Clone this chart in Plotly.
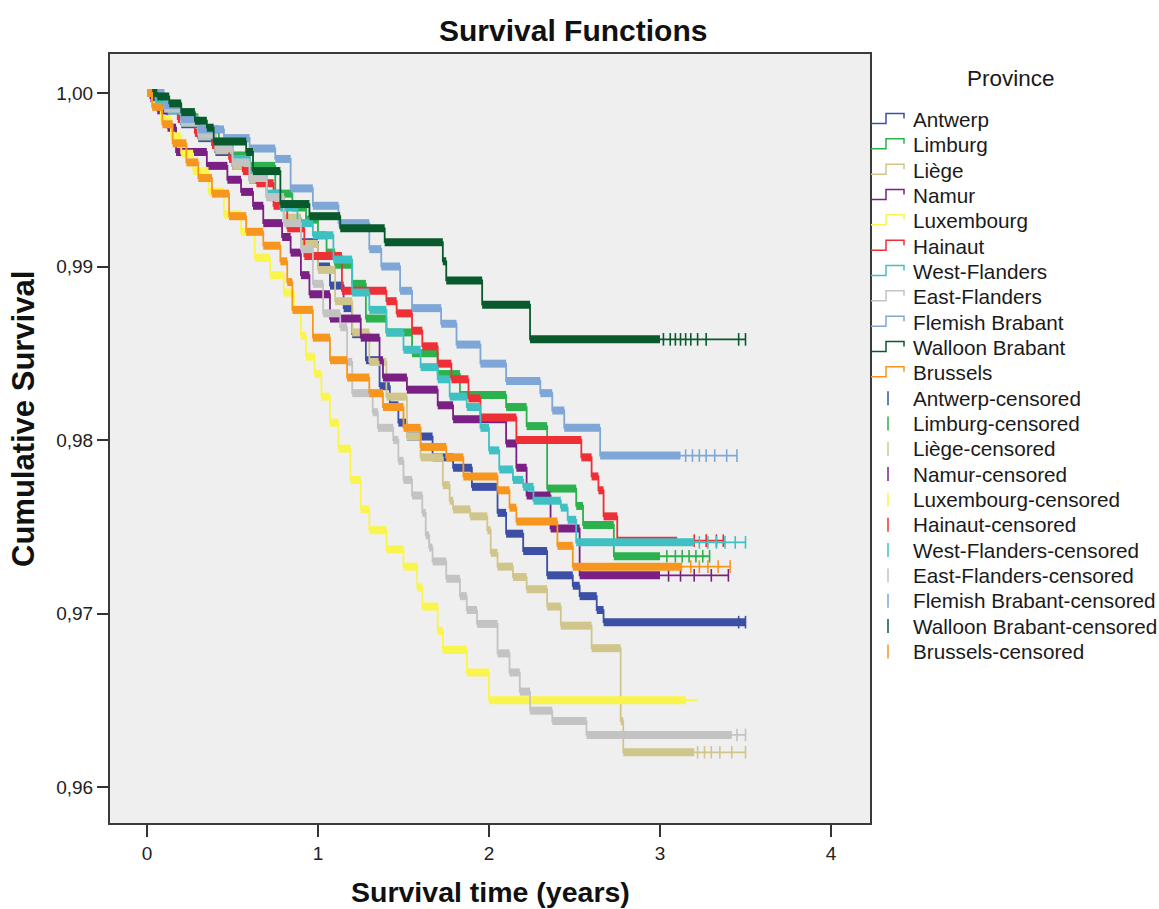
import plotly.graph_objects as go

# ---------------- data ----------------
provinces = ["Antwerp", "Limburg", "Liège", "Namur", "Luxembourg", "Hainaut",
             "West-Flanders", "East-Flanders", "Flemish Brabant", "Walloon Brabant", "Brussels"]
colors = ["#3b4fa6", "#2bb24c", "#d0c68c", "#7a1f83", "#f9f54c", "#ee2f36",
          "#3fc1c4", "#c3c3c3", "#7ea6d6", "#085a2c", "#f7961e"]

# event times (years) and Kaplan-Meier survival after each event
antwerp_t = [0.1, 0.2, 0.3, 0.4, 0.5, 0.6, 0.7, 0.8, 0.9, 1.0, 1.07, 1.15, 1.2, 1.28, 1.36, 1.42,
             1.47, 1.52, 1.67, 1.79, 1.9, 2.05, 2.1, 2.2, 2.34, 2.49, 2.53, 2.63, 2.67]
antwerp_s = [0.9990, 0.9982, 0.9974, 0.9966, 0.9958, 0.9950, 0.9940, 0.9928, 0.9914, 0.9900, 0.9889,
             0.9876, 0.9861, 0.9846, 0.9831, 0.9820, 0.9810, 0.9802, 0.9790, 0.9784, 0.9773, 0.9758,
             0.9746, 0.9736, 0.9722, 0.9716, 0.9710, 0.9702, 0.9695]

limburg_t = [0.1, 0.2, 0.3, 0.42, 0.5, 0.6, 0.75, 0.85, 0.93, 1.0, 1.05, 1.1, 1.2, 1.28, 1.4, 1.55,
             1.7, 1.83, 2.1, 2.22, 2.34, 2.51, 2.55, 2.73]
limburg_s = [0.9993, 0.9986, 0.9979, 0.9972, 0.9964, 0.9958, 0.9942, 0.9934, 0.9927, 0.9918, 0.9908,
             0.9901, 0.9890, 0.9870, 0.9862, 0.9850, 0.9838, 0.9826, 0.9819, 0.9808, 0.9772, 0.9762,
             0.9751, 0.9733]

liege_t = [0.1, 0.2, 0.3, 0.4, 0.5, 0.6, 0.7, 0.8, 0.9, 1.0, 1.1, 1.2, 1.3, 1.4, 1.52, 1.6, 1.73,
           1.77, 1.79, 1.89, 1.99, 2.01, 2.05, 2.14, 2.22, 2.34, 2.42, 2.6, 2.77, 2.785]
liege_s = [0.9991, 0.9983, 0.9975, 0.9967, 0.9958, 0.9950, 0.9940, 0.9928, 0.9913, 0.9898, 0.9880,
           0.9862, 0.9845, 0.9825, 0.9802, 0.9790, 0.9774, 0.9765, 0.9760, 0.9756, 0.9748, 0.9735,
           0.9727, 0.9721, 0.9714, 0.9704, 0.9693, 0.9680, 0.9638, 0.9620]

namur_t = [0.02, 0.06, 0.12, 0.17, 0.35, 0.47, 0.55, 0.62, 0.68, 0.79, 0.84, 0.9, 0.95, 1.07, 1.25,
           1.36, 1.38, 1.52, 1.7, 1.79, 2.1, 2.16, 2.22, 2.36, 2.53]
namur_s = [0.9997, 0.9990, 0.9980, 0.9966, 0.9958, 0.9950, 0.9943, 0.9935, 0.9925, 0.9917, 0.9908,
           0.9895, 0.9884, 0.9870, 0.9859, 0.9846, 0.9836, 0.9829, 0.9820, 0.9812, 0.9798, 0.9784,
           0.9768, 0.9749, 0.9722]

lux_t = [0.03, 0.08, 0.14, 0.2, 0.27, 0.36, 0.45, 0.55, 0.63, 0.72, 0.8, 0.86, 0.9, 0.93, 0.98,
         1.02, 1.07, 1.12, 1.19, 1.25, 1.3, 1.4, 1.5, 1.58, 1.61, 1.7, 1.73, 1.87, 2.0]
lux_s = [0.9993, 0.9985, 0.9975, 0.9965, 0.9955, 0.9943, 0.9930, 0.9920, 0.9905, 0.9895, 0.9885,
         0.9875, 0.9860, 0.9848, 0.9838, 0.9825, 0.9810, 0.9795, 0.9777, 0.9760, 0.9748, 0.9737,
         0.9727, 0.9715, 0.9704, 0.9690, 0.9679, 0.9666, 0.9650]

hainaut_t = [0.08, 0.18, 0.28, 0.38, 0.48, 0.56, 0.64, 0.74, 0.82, 0.92, 1.14, 1.40, 1.46, 1.55,
             1.61, 1.70, 1.78, 1.88, 1.95, 2.16, 2.54, 2.60, 2.64, 2.67, 2.75]
hainaut_s = [0.9993, 0.9985, 0.9977, 0.9970, 0.9962, 0.9955, 0.9948, 0.9935, 0.9922, 0.9906, 0.9886,
             0.9880, 0.9873, 0.9863, 0.9854, 0.9844, 0.9835, 0.9824, 0.9813, 0.9800, 0.9790, 0.9779,
             0.9771, 0.9756, 0.9742]

wfl_t = [0.05, 0.12, 0.2, 0.3, 0.4, 0.5, 0.6, 0.7, 0.78, 0.88, 0.97, 1.09, 1.2, 1.3, 1.4, 1.5, 1.6,
         1.7, 1.77, 1.87, 1.95, 2.0, 2.06, 2.14, 2.2, 2.26, 2.42, 2.46, 2.51]
wfl_s = [0.9995, 0.9990, 0.9983, 0.9976, 0.9969, 0.9962, 0.9953, 0.9942, 0.9934, 0.9925, 0.9918,
         0.9904, 0.9885, 0.9875, 0.9862, 0.9852, 0.9842, 0.9835, 0.9825, 0.9819, 0.9807, 0.9794,
         0.9783, 0.9777, 0.9773, 0.9765, 0.9761, 0.9754, 0.9741]

efl_t = [0.1, 0.2, 0.3, 0.4, 0.5, 0.6, 0.7, 0.8, 0.9, 0.97, 1.03, 1.13, 1.17, 1.2, 1.32, 1.35, 1.44,
         1.47, 1.5, 1.55, 1.61, 1.63, 1.65, 1.67, 1.75, 1.83, 1.87, 1.93, 2.05, 2.12, 2.18, 2.24,
         2.37, 2.57]
efl_s = [0.9991, 0.9983, 0.9976, 0.9968, 0.9960, 0.9951, 0.9940, 0.9925, 0.9910, 0.9890, 0.9873,
         0.9865, 0.9845, 0.9827, 0.9816, 0.9807, 0.9800, 0.9788, 0.9777, 0.9768, 0.9758, 0.9745,
         0.9738, 0.9730, 0.9720, 0.9710, 0.9702, 0.9694, 0.9677, 0.9666, 0.9655, 0.9644, 0.9638,
         0.9630]

fbr_t = [0.1, 0.2, 0.3, 0.45, 0.6, 0.75, 0.84, 0.97, 1.12, 1.30, 1.37, 1.48, 1.55, 1.72, 1.81, 1.95,
         2.10, 2.30, 2.37, 2.44, 2.65]
fbr_s = [0.9993, 0.9985, 0.9979, 0.9974, 0.9968, 0.9962, 0.9945, 0.9935, 0.9925, 0.9910, 0.9900,
         0.9886, 0.9876, 0.9867, 0.9855, 0.9844, 0.9834, 0.9827, 0.9817, 0.9807, 0.9791]

wbr_t = [0.06, 0.13, 0.20, 0.28, 0.35, 0.39, 0.58, 0.62, 0.78, 0.95, 1.13, 1.39, 1.73, 1.75, 1.96, 2.24]
wbr_s = [0.9998, 0.9994, 0.9989, 0.9984, 0.9980, 0.9972, 0.9966, 0.9955, 0.9936, 0.9929, 0.9922,
         0.9914, 0.9903, 0.9892, 0.9878, 0.9858]

bru_t = [0.03, 0.09, 0.15, 0.23, 0.3, 0.38, 0.48, 0.58, 0.68, 0.78, 0.82, 0.85, 0.97, 1.07, 1.17,
         1.3, 1.38, 1.5, 1.6, 1.75, 1.85, 2.05, 2.12, 2.16, 2.4, 2.49]
bru_s = [0.9992, 0.9982, 0.9971, 0.9960, 0.9951, 0.9942, 0.9929, 0.9920, 0.9912, 0.9903, 0.9891,
         0.9875, 0.9859, 0.9846, 0.9836, 0.9827, 0.9819, 0.9807, 0.9796, 0.9790, 0.9779, 0.9771,
         0.9761, 0.9753, 0.9739, 0.9727]

event_times = [antwerp_t, limburg_t, liege_t, namur_t, lux_t, hainaut_t, wfl_t, efl_t, fbr_t, wbr_t, bru_t]
survival = [antwerp_s, limburg_s, liege_s, namur_s, lux_s, hainaut_s, wfl_s, efl_s, fbr_s, wbr_s, bru_s]

# longest follow-up per province
follow_up = [3.5, 3.29, 3.5, 3.4, 3.22, 3.37, 3.5, 3.5, 3.45, 3.5, 3.41]
# time until which censored cases are so dense that their ticks merge into a band
dense_until = [3.5, 3.0, 3.2, 3.0, 3.15, 3.1, 3.2, 3.42, 3.12, 3.0, 3.13]
# isolated censored cases in the tail
censored = [
    [3.46, 3.5],
    [3.04, 3.09, 3.13, 3.17, 3.21, 3.25, 3.29],
    [3.22, 3.26, 3.3, 3.35, 3.42, 3.5],
    [3.05, 3.12, 3.2, 3.3, 3.4],
    [],
    [3.2, 3.27, 3.33, 3.37],
    [3.23, 3.28, 3.33, 3.38, 3.44, 3.5],
    [3.45, 3.5],
    [3.15, 3.19, 3.23, 3.27, 3.32, 3.39, 3.45],
    [3.02, 3.06, 3.09, 3.12, 3.15, 3.18, 3.22, 3.27, 3.46, 3.5],
    [3.18, 3.23, 3.28, 3.34, 3.41],
]

x_ticks = [0, 1, 2, 3, 4]
y_ticks = [0.96, 0.97, 0.98, 0.99, 1.00]

FONT = "Liberation Sans, Arial, sans-serif"


def surv_at(times, surv, t):
    s = 1.0
    for ti, si in zip(times, surv):
        if ti <= t:
            s = si
        else:
            break
    return s


fig = go.Figure()

for name, col, T, S, end, dense, cens in zip(provinces, colors, event_times, survival,
                                              follow_up, dense_until, censored):
    xs = [0.0] + T + [end]
    ys = [1.0] + S + [S[-1]]
    # thin step function
    fig.add_trace(go.Scatter(x=xs, y=ys, mode="lines",
                             line=dict(shape="hv", color=col, width=1.8),
                             hoverinfo="skip", showlegend=False, name=name))
    # plateaus crowded with censor ticks
    bx, by = [], []
    for a, b, lv in zip([0.0] + T, T + [end], [1.0] + S):
        b = min(b, dense)
        if b > a:
            bx += [a, b, None]
            by += [lv, lv, None]
    fig.add_trace(go.Scatter(x=bx, y=by, mode="lines",
                             line=dict(color=col, width=8),
                             hoverinfo="skip", showlegend=False, name=name))
    if cens:
        fig.add_trace(go.Scatter(x=cens, y=[surv_at(T, S, c) for c in cens], mode="markers",
                                 marker=dict(symbol="line-ns", size=9,
                                             line=dict(width=1.6, color=col)),
                                 hoverinfo="skip", showlegend=False,
                                 name=name + "-censored"))

# ---------------- layout ----------------
L, R, T_, B = 110, 870, 54, 823
W, H = 1159, 909


def px(x):
    return (x - L) / (R - L)


def py(y):
    return (B - y) / (B - T_)


shapes = []
annotations = []

# custom legend
row0, row_h = 119.5, 25.33
entries = [(n, c, False) for n, c in zip(provinces, colors)] + \
          [(n + "-censored", c, True) for n, c in zip(provinces, colors)]
for i, (label, col, is_cens) in enumerate(entries):
    c = row0 + i * row_h
    if is_cens:
        path = f"M {px(888)} {py(c - 7)} L {px(888)} {py(c + 7)}"
    else:
        path = (f"M {px(871)} {py(c + 4)} L {px(886)} {py(c + 4)} L {px(886)} {py(c - 6)} "
                f"L {px(904)} {py(c - 6)} L {px(904)} {py(c - 1)}")
    shapes.append(dict(type="path", path=path, xref="paper", yref="paper",
                       line=dict(color=col, width=1.5)))
    annotations.append(dict(text=label, x=px(911), y=py(c), xref="paper", yref="paper",
                            xanchor="left", yanchor="middle", showarrow=False,
                            font=dict(family=FONT, size=20.7, color="#1a1a1a")))

annotations.append(dict(text="Province", x=px(1011), y=py(78), xref="paper", yref="paper",
                        xanchor="center", yanchor="middle", showarrow=False,
                        font=dict(family=FONT, size=22.5, color="#1a1a1a")))
annotations.append(dict(text="<b>Survival Functions</b>", x=px(573), y=py(30), xref="paper",
                        yref="paper", xanchor="center", yanchor="middle", showarrow=False,
                        font=dict(family=FONT, size=30, color="#111")))
annotations.append(dict(text="<b>Survival time (years)</b>", x=px(490), y=py(892), xref="paper",
                        yref="paper", xanchor="center", yanchor="middle", showarrow=False,
                        font=dict(family=FONT, size=28.5, color="#111")))
annotations.append(dict(text="<b>Cumulative Survival</b>", x=px(23), y=py(419), xref="paper",
                        yref="paper", xanchor="center", yanchor="middle", showarrow=False,
                        textangle=-90, font=dict(family=FONT, size=31, color="#111")))

x0 = (L - 147) / 171.0
x1 = (R - 147) / 171.0
y_top = 1.0 + (93 - T_) / 17350.0
y_bot = 1.0 - (B - 93) / 17350.0

fig.update_layout(
    width=W, height=H,
    margin=dict(l=L, r=W - R, t=T_, b=H - B, pad=0),
    paper_bgcolor="white",
    plot_bgcolor="#efefef",
    separators=",.",
    showlegend=False,
    shapes=shapes,
    annotations=annotations,
    font=dict(family=FONT, color="#222"),
    xaxis=dict(range=[x0, x1], tickvals=x_ticks, ticks="outside", ticklen=12, tickwidth=2,
               tickcolor="#333", showgrid=False, zeroline=False, showline=True, mirror=True,
               linecolor="#3a3a3a", linewidth=2, tickfont=dict(family=FONT, size=19, color="#222")),
    yaxis=dict(range=[y_bot, y_top], tickvals=y_ticks, tickformat=".2f", ticks="outside",
               ticklen=11, tickwidth=2, tickcolor="#333", showgrid=False, zeroline=False,
               showline=True, mirror=True, linecolor="#3a3a3a", linewidth=2,
               tickfont=dict(family=FONT, size=19, color="#222")),
)

fig.write_html("out.html")
